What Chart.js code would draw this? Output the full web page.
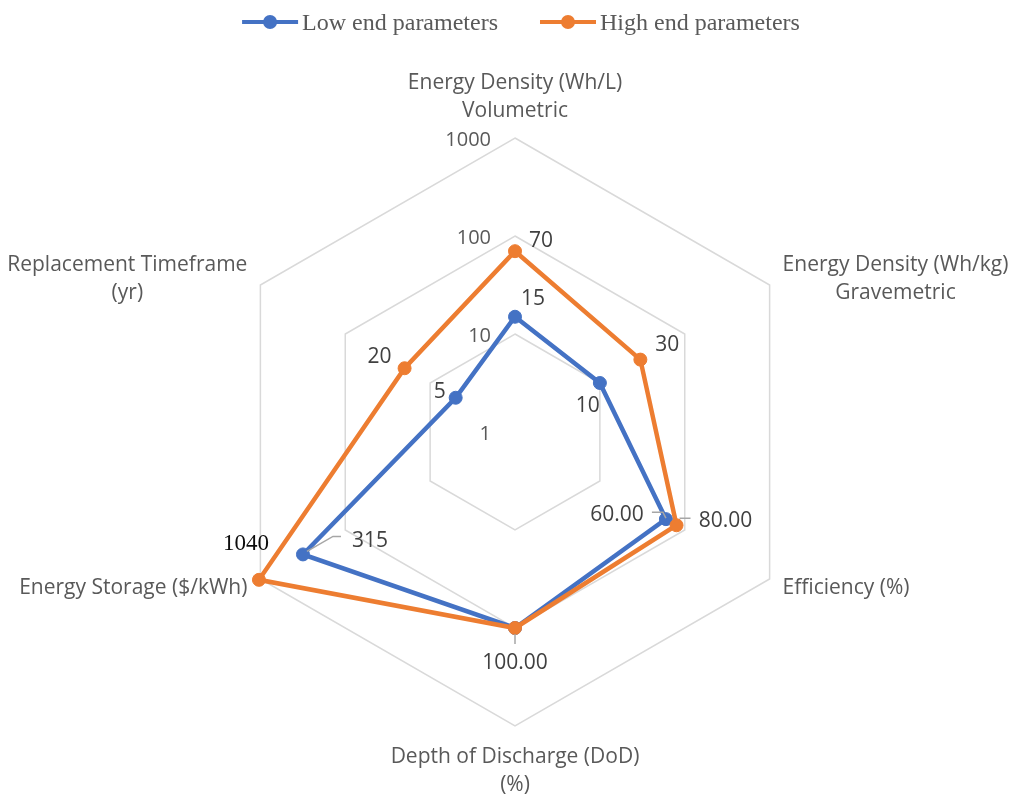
<!DOCTYPE html>
<html>
<head>
<meta charset="utf-8">
<script src="https://cdn.jsdelivr.net/npm/chart.js@4.4.0/dist/chart.umd.min.js"></script>
<style>
  html, body { margin: 0; padding: 0; background: #fff; }
  #wrap { width: 1014px; height: 794px; position: relative; }
</style>
</head>
<body>
<div id="wrap"><canvas id="radarChart"></canvas></div>
<script>
// 数据
const axisLabels = [
    ['Energy Density (Wh/L)', 'Volumetric'],
    ['Energy Density (Wh/kg)', 'Gravemetric'],
    ['Efficiency (%)'],
    ['Depth of Discharge (DoD)', '(%)'],
    ['Energy Storage ($/kWh)'],
    ['Replacement Timeframe', '(yr)']
];
const lowEnd = [15, 10, 60, 100, 315, 5];
const highEnd = [70, 30, 80, 100, 1040, 20];
const lowEndText = ['15', '10', '60.00', '100.00', '315', '5'];
const highEndText = ['70', '30', '80.00', null, '1040', '20'];
const tickValues = [1, 10, 100, 1000];

// 标签位置 (相对数据点)
const lowLabelOffsets = [[18, -20], [-12, 21], [-49, -6], [0, 33], [67, -15], [-16, -8]];
const highLabelOffsets = [[26, -12], [27, -17], [49, -6], null, [-13, -36], [-25, -13]];
const lowLeaders = [null, null, [[-14, -7], [-3, -7], [0, -1]], [[0, 6], [0, 16]], [[38, -18], [30, -18], [4, -3]], null];
const highLeaders = [null, null, [[3, -7], [14, -7]], null, null, null];
const highSerif = [false, false, false, false, true, false];

const BLUE = '#4472C4';
const ORANGE = '#ED7D31';
const SANS = '"Open Sans", "Noto Sans", sans-serif';
const SERIF = '"Liberation Serif", "Times New Roman", serif';
const TEXT_DY = 2;

function drawLabels(ctx, meta, texts, offsets, leaders, serif) {
    meta.data.forEach((pt, i) => {
        if (leaders[i]) {
            ctx.strokeStyle = '#a6a6a6';
            ctx.lineWidth = 1.5;
            ctx.beginPath();
            leaders[i].forEach((p, k) => {
                if (k === 0) ctx.moveTo(pt.x + p[0], pt.y + p[1]);
                else ctx.lineTo(pt.x + p[0], pt.y + p[1]);
            });
            ctx.stroke();
        }
        if (!texts[i] || !offsets[i]) return;
        const isSerif = serif && serif[i];
        ctx.font = isSerif ? '23px ' + SERIF : '21px ' + SANS;
        ctx.fillStyle = isSerif ? '#0d0d0d' : '#404040';
        ctx.textAlign = 'center';
        ctx.textBaseline = 'middle';
        ctx.fillText(texts[i], pt.x + offsets[i][0], pt.y + offsets[i][1] + (isSerif ? 0 : TEXT_DY));
    });
}

const decorPlugin = {
    id: 'decor',
    afterDatasetsDraw(chart) {
        const ctx = chart.ctx;
        const scale = chart.scales.r;
        ctx.save();

        // 刻度
        ctx.font = '20px ' + SANS;
        ctx.fillStyle = '#595959';
        ctx.textAlign = 'right';
        ctx.textBaseline = 'middle';
        tickValues.forEach(v => {
            const r = scale.getDistanceFromCenterForValue(Math.log10(v));
            ctx.fillText(String(v), scale.xCenter - 24, scale.yCenter - r + TEXT_DY);
        });

        // 轴标签
        ctx.font = '21px ' + SANS;
        const lh = 28;
        axisLabels.forEach((lines, i) => {
            const pos = scale.getPointPosition(i, scale.drawingArea + 15);
            const c = Math.cos(pos.angle), s = Math.sin(pos.angle);
            const widths = lines.map(t => ctx.measureText(t).width);
            const maxW = Math.max(...widths);
            ctx.textAlign = 'center';
            lines.forEach((t, k) => {
                let x = pos.x, y;
                if (Math.abs(c) < 0.1) {
                    y = s < 0 ? pos.y - lh * (lines.length - k - 0.5) : pos.y + lh * (k + 0.5);
                } else {
                    x = c > 0 ? pos.x + maxW / 2 : pos.x - maxW / 2;
                    y = pos.y + lh * (k - (lines.length - 1) / 2);
                }
                ctx.fillText(t, x, y + TEXT_DY);
            });
        });

        // 数据标签
        drawLabels(ctx, chart.getDatasetMeta(0), lowEndText, lowLabelOffsets, lowLeaders, null);
        drawLabels(ctx, chart.getDatasetMeta(1), highEndText, highLabelOffsets, highLeaders, highSerif);

        // 图例
        ctx.font = '24px ' + SERIF;
        const items = chart.data.datasets.map(d => ({ text: d.label, color: d.borderColor, w: ctx.measureText(d.label).width }));
        const lineLen = 56, gap = 4, itemGap = 42;
        const total = items.reduce((sum, it) => sum + lineLen + gap + it.w, 0) + itemGap * (items.length - 1);
        let x = 521 - total / 2;
        const y = 22;
        items.forEach(it => {
            ctx.strokeStyle = it.color;
            ctx.lineWidth = 4;
            ctx.beginPath();
            ctx.moveTo(x, y);
            ctx.lineTo(x + lineLen, y);
            ctx.stroke();
            ctx.fillStyle = it.color;
            ctx.beginPath();
            ctx.arc(x + lineLen / 2, y, 7, 0, Math.PI * 2);
            ctx.fill();
            ctx.fillStyle = '#595959';
            ctx.textAlign = 'left';
            ctx.textBaseline = 'middle';
            ctx.fillText(it.text, x + lineLen + gap, y + 2);
            x += lineLen + gap + it.w + itemGap;
        });
        ctx.restore();
    }
};

const radarCtx = document.getElementById('radarChart').getContext('2d');
new Chart(radarCtx, {
    type: 'radar',
    data: {
        labels: axisLabels,
        datasets: [
            {
                label: 'Low end parameters',
                data: lowEnd.map(v => Math.log10(v)),
                borderColor: BLUE,
                backgroundColor: BLUE,
                pointBackgroundColor: BLUE,
                pointBorderColor: BLUE,
                borderWidth: 4.5,
                pointRadius: 6.5,
                pointBorderWidth: 1,
                fill: false,
                order: 1,
                clip: false
            },
            {
                label: 'High end parameters',
                data: highEnd.map(v => Math.log10(v)),
                borderColor: ORANGE,
                backgroundColor: ORANGE,
                pointBackgroundColor: ORANGE,
                pointBorderColor: ORANGE,
                borderWidth: 4.5,
                pointRadius: 6.5,
                pointBorderWidth: 1,
                fill: false,
                order: 0,
                clip: false
            }
        ]
    },
    options: {
        responsive: true,
        maintainAspectRatio: false,
        animation: false,
        layout: {
            padding: { left: 221, right: 205, top: 138, bottom: 68 }
        },
        plugins: {
            legend: { display: false },
            tooltip: { enabled: false }
        },
        scales: {
            r: {
                min: 0,
                max: 3,
                ticks: { display: false, stepSize: 1 },
                grid: { color: '#d9d9d9', lineWidth: 1.5 },
                angleLines: { display: false },
                pointLabels: { display: false }
            }
        }
    },
    plugins: [decorPlugin]
});
</script>
</body>
</html>
